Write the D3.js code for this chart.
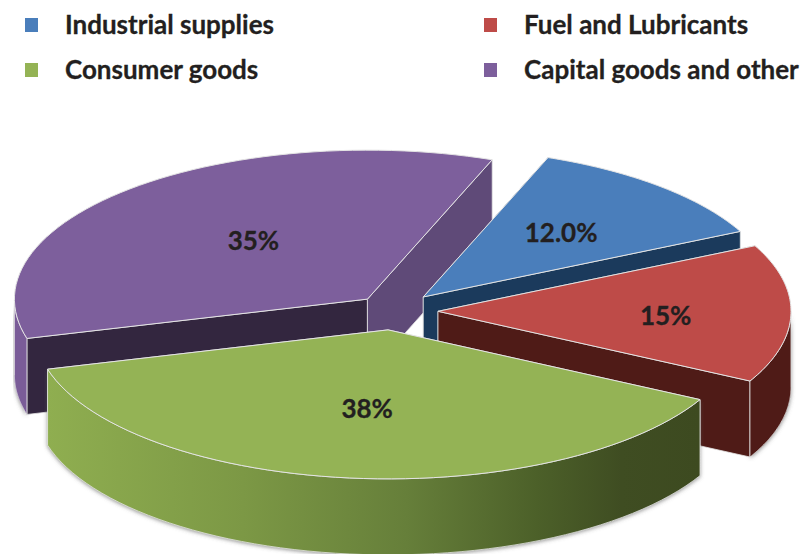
<!DOCTYPE html>
<html lang="en">
<head>
    <meta charset="UTF-8">
    <title>Imports by category</title>
    <script src="https://d3js.org/d3.v7.min.js"></script>
    <style>
        html, body { margin: 0; background: #fff; }
        svg { display: block; }
        text { font-family: Lato, "Open Sans", sans-serif; font-weight: 700; fill: #231f20; stroke: #231f20; stroke-width: 0.3; }
    </style>
</head>
<body>
<script>
    // data
    const categories = ["Industrial supplies", "Fuel and Lubricants", "Consumer goods", "Capital goods and other"];
    const shares = [12, 15, 38, 35];
    const shareLabels = ["12.0%", "15%", "38%", "35%"];

    // slice colours: top, radial wall at slice start, radial wall at slice end, rim
    const topColors = ["#4a7ebb", "#be4b48", "#94b355", "#7d5f9c"];
    const startWall = ["#1b3a5c", "#4f1b17", "#5f7a34", "#33263f"];
    const endWall = ["#1b3a5c", "#4f1b17", "#5f7a34", "#5f4a78"];
    const rimColors = ["#1b3a5c", "#4f1b17", "url(#greenRim)", "#7a5c98"];

    // back to front
    const drawOrder = [3, 0, 1, 2];

    // layout of the fake 3d pie
    const width = 803;
    const height = 554;
    const cx = 393;
    const cy = 311;
    const rx = 353;
    const ry = 149;
    const depth = 76;
    const explode = [45, 45, 45, 38];
    const labelPos = [0.58, 0.645, 0.54, 0.48];
    const labelNudge = [0, 3, -1, -5];

    const svg = d3.select("body").append("svg")
        .attr("width", width).attr("height", height);

    const defs = svg.append("defs");
    const grad = defs.append("linearGradient").attr("id", "greenRim");
    [[0, "#8fae50"], [0.3, "#7c9845"], [0.55, "#667f3a"], [0.75, "#4c6029"], [0.88, "#3f4d22"], [1, "#3d4a20"]]
        .forEach(d => grad.append("stop").attr("offset", d[0]).attr("stop-color", d[1]));
    defs.append("filter").attr("id", "rimShadow")
        .attr("x", "-10%").attr("y", "-10%").attr("width", "120%").attr("height", "120%")
        .append("feDropShadow")
        .attr("dx", 0).attr("dy", 1).attr("stdDeviation", 2)
        .attr("flood-color", "#555").attr("flood-opacity", 0.7);

    const rad = d => d * Math.PI / 180;
    const pie = d3.pie().sort(null).startAngle(rad(20.7)).endAngle(rad(380.7));
    const slices = pie(shares);

    // angle is d3 style, clockwise from 12 o'clock
    function project(d, angle, r, z) {
        const mid = (d.startAngle + d.endAngle) / 2;
        const e = explode[d.index];
        return [
            cx + e * Math.sin(mid) + r * rx * Math.sin(angle),
            cy - e * (ry / rx) * Math.cos(mid) - r * ry * Math.cos(angle) + z
        ];
    }

    const line = d3.line();
    const arcPoints = (d, a0, a1, z) => d3.range(0, 61).map(i => project(d, a0 + (a1 - a0) * i / 60, 1, z));

    function topPath(d) {
        return line([project(d, 0, 0, 0)].concat(arcPoints(d, d.startAngle, d.endAngle, 0))) + "Z";
    }

    function radialWall(d, a) {
        return line([project(d, a, 0, 0), project(d, a, 1, 0), project(d, a, 1, depth), project(d, a, 0, depth)]) + "Z";
    }

    // only the part of the outer edge facing the viewer (90 to 270 degrees)
    function rimPath(d) {
        const a0 = Math.max(d.startAngle, rad(90));
        const a1 = Math.min(d.endAngle, rad(270));
        if (a1 <= a0) return null;
        return line(arcPoints(d, a0, a1, 0).concat(arcPoints(d, a1, a0, depth))) + "Z";
    }

    const edge = "#e4e4e4";
    const g = svg.selectAll("g.slice").data(drawOrder.map(i => slices[i])).enter()
        .append("g").attr("class", "slice");

    g.filter(d => rimPath(d) !== null).append("path")
        .attr("d", rimPath)
        .attr("fill", d => rimColors[d.index])
        .attr("filter", "url(#rimShadow)");
    g.append("path")
        .attr("d", d => radialWall(d, d.startAngle))
        .attr("fill", d => startWall[d.index])
        .attr("stroke", edge).attr("stroke-width", 0.8);
    g.append("path")
        .attr("d", d => radialWall(d, d.endAngle))
        .attr("fill", d => endWall[d.index])
        .attr("stroke", edge).attr("stroke-width", 0.8);
    g.filter(d => rimPath(d) !== null).append("path")
        .attr("d", rimPath)
        .attr("fill", d => rimColors[d.index])
        .attr("stroke", edge).attr("stroke-width", 0.8);
    g.append("path")
        .attr("d", topPath)
        .attr("fill", d => topColors[d.index])
        .attr("stroke", edge).attr("stroke-width", 1);

    svg.selectAll("text.share").data(slices).enter()
        .append("text").attr("class", "share")
        .attr("text-anchor", "middle")
        .attr("font-size", 26)
        .attr("dy", "0.35em")
        .attr("transform", d => {
            const mid = (d.startAngle + d.endAngle) / 2;
            const p = project(d, mid, labelPos[d.index], labelNudge[d.index]);
            return `translate(${p})`;
        })
        .text(d => shareLabels[d.index]);

    // legend, two columns and two rows
    const legendX = d3.scaleOrdinal().domain([0, 1]).range([25, 484]);
    const legendY = d3.scaleOrdinal().domain([0, 1]).range([25, 70]);
    const legend = svg.selectAll("g.key").data(categories).enter()
        .append("g").attr("class", "key")
        .attr("transform", (d, i) => `translate(${legendX(i % 2)},${legendY(Math.floor(i / 2))})`);
    legend.append("rect")
        .attr("y", -7).attr("width", 13).attr("height", 14)
        .attr("fill", (d, i) => topColors[i]);
    legend.append("text")
        .attr("x", 40).attr("dy", "0.35em")
        .attr("font-size", 26)
        .text(d => d);
</script>
</body>
</html>
